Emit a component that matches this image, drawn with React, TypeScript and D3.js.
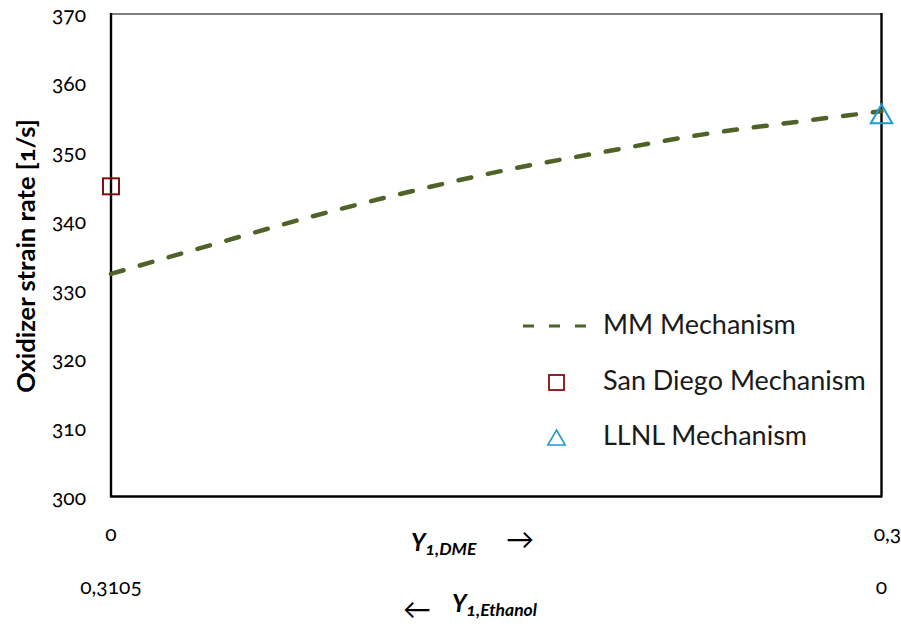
import React from "react";
import * as d3 from "d3";

const mmX = [0, 0.04, 0.077, 0.115, 0.153, 0.192, 0.23, 0.268, 0.3];
const mmY = [332.3, 336.6, 340.5, 344.1, 347.3, 350.0, 352.5, 354.4, 355.9];
const sanDiegoX = [0];
const sanDiegoY = [345];
const llnlX = [0.3];
const llnlY = [355.2];
const yTicks = [300, 310, 320, 330, 340, 350, 360, 370];
const dmeTickLabels = ["0", "0,3"];
const ethTickLabels = ["0,3105", "0"];
const legendLabels = ["MM Mechanism", "San Diego Mechanism", "LLNL Mechanism"];

const W = 901;
const H = 630;
const left = 111;
const right = 881.5;
const top = 14;
const bottom = 496.5;
const FONT = "Lato, 'Open Sans', sans-serif";

export default function App() {
  const x = d3.scaleLinear().domain([0, 0.3]).range([left, right]);
  const y = d3.scaleLinear().domain([300, 370]).range([bottom, top]);
  const line = d3
    .line<number>()
    .x((_, i) => x(mmX[i]))
    .y((d) => y(d))
    .curve(d3.curveMonotoneX);
  const tri = d3.symbol().type(d3.symbolTriangle);
  const olive = "#4F6228";
  const red = "#7F1010";
  const blue = "#1E9BD0";
  const numStyle: React.CSSProperties = { fontVariantNumeric: "oldstyle-nums" };

  return (
    <svg
      width={W}
      height={H}
      style={{ position: "absolute", left: 0, top: 0, background: "#fff" }}
      fontFamily={FONT}
    >
      <rect x={0} y={0} width={W} height={H} fill="#fff" />
      {/* frame */}
      <line x1={left} x2={right} y1={top} y2={top} stroke="#808080" strokeWidth={2.2} />
      <line x1={left} x2={left} y1={top - 1} y2={bottom + 1} stroke="#000" strokeWidth={2.4} />
      <line x1={right} x2={right} y1={top - 1} y2={bottom + 1} stroke="#000" strokeWidth={2.4} />
      <line x1={left} x2={right} y1={bottom} y2={bottom} stroke="#000" strokeWidth={2.4} />

      {/* y ticks */}
      {yTicks.map((t) => (
        <text
          key={t}
          x={86}
          y={y(t) + 3}
          textAnchor="end"
          dominantBaseline="middle"
          fontSize={21}
          fill="#000"
          style={numStyle}
        >
          {t}
        </text>
      ))}
      <text
        transform={`translate(35,256) rotate(-90)`}
        textAnchor="middle"
        fontSize={25.5}
        fontWeight="bold"
        fill="#000"
        style={numStyle}
      >
        Oxidizer strain rate [1/s]
      </text>

      {/* x tick labels */}
      {dmeTickLabels.map((t, i) => (
        <text
          key={"d" + i}
          x={i === 0 ? x(0) : x(0.3) + 6}
          y={536}
          textAnchor="middle"
          dominantBaseline="middle"
          fontSize={21}
          style={numStyle}
        >
          {t}
        </text>
      ))}
      {ethTickLabels.map((t, i) => (
        <text
          key={"e" + i}
          x={i === 0 ? x(0) : x(0.3)}
          y={589}
          textAnchor="middle"
          dominantBaseline="middle"
          fontSize={21}
          style={numStyle}
        >
          {t}
        </text>
      ))}

      {/* axis titles */}
      <text x={411} y={551} fontSize={24} fontWeight="bold" fontStyle="italic" style={numStyle}>
        Y
        <tspan fontSize={17.5} dy={4}>1,DME</tspan>
      </text>
      <text x={506} y={549} fontSize={28}>→</text>
      <text x={403} y={619} fontSize={28}>←</text>
      <text x={452} y={612} fontSize={24} fontWeight="bold" fontStyle="italic" style={numStyle}>
        Y
        <tspan fontSize={17.5} dy={4}>1,Ethanol</tspan>
      </text>

      {/* MM line */}
      <path
        d={line(mmY) || ""}
        fill="none"
        stroke={olive}
        strokeWidth={4.5}
        strokeDasharray="13 17"
        strokeLinecap="round"
      />
      {/* San Diego */}
      {sanDiegoX.map((d, i) => (
        <rect
          key={"sd" + i}
          x={x(d) - 8}
          y={y(sanDiegoY[i]) - 8}
          width={16}
          height={16}
          fill="none"
          stroke={red}
          strokeWidth={2}
        />
      ))}
      {/* LLNL */}
      {llnlX.map((d, i) => (
        <path
          key={"ll" + i}
          d={tri.size(200)() || ""}
          transform={`translate(${x(d)},${y(llnlY[i]) + 1})`}
          fill="none"
          stroke={blue}
          strokeWidth={2}
        />
      ))}

      {/* legend */}
      <line x1={523} x2={592} y1={326} y2={326} stroke={olive} strokeWidth={3} strokeDasharray="11 15" />
      <text x={603} y={327} dominantBaseline="middle" fontSize={27} fill="#1a1a1a">
        {legendLabels[0]}
      </text>
      <rect x={549} y={375} width={15} height={15} fill="none" stroke={red} strokeWidth={1.8} />
      <text x={603} y={383} dominantBaseline="middle" fontSize={27} fill="#1a1a1a">
        {legendLabels[1]}
      </text>
      <path
        d={d3.symbol().type(d3.symbolTriangle).size(130)() || ""}
        transform="translate(556.5,440)"
        fill="none"
        stroke={blue}
        strokeWidth={1.6}
      />
      <text x={603} y={438} dominantBaseline="middle" fontSize={27} fill="#1a1a1a">
        {legendLabels[2]}
      </text>
    </svg>
  );
}
